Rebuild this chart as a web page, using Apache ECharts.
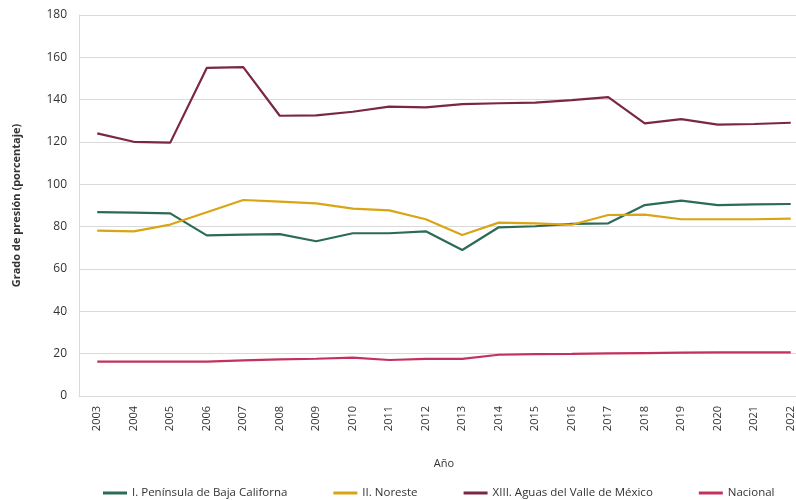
<!DOCTYPE html>
<html><head><meta charset="utf-8">
<script src="https://cdn.jsdelivr.net/npm/echarts@6/dist/echarts.min.js"></script>
<style>html,body{margin:0;padding:0;background:#fff;overflow:hidden}#c{width:796px;height:500px}</style>
</head><body><div id="c"></div>
<script>
var years = ['2003','2004','2005','2006','2007','2008','2009','2010','2011','2012','2013','2014','2015','2016','2017','2018','2019','2020','2021','2022'];
var bajaCalifornia = [86.9,86.6,86.3,75.9,76.2,76.5,73.1,76.9,76.9,77.8,69.0,79.7,80.2,81.3,81.6,90.2,92.3,90.2,90.5,90.7];
var noreste = [78.1,77.8,81.0,86.8,92.6,91.8,91.0,88.5,87.7,83.5,76.1,81.9,81.6,80.9,85.5,85.7,83.5,83.5,83.5,83.8];
var valleMexico = [124.1,120.1,119.7,155.0,155.4,132.4,132.6,134.3,136.7,136.4,137.9,138.3,138.6,139.8,141.2,128.8,130.8,128.2,128.5,129.1];
var nacional = [16.2,16.2,16.2,16.2,16.8,17.3,17.6,18.1,17.0,17.5,17.5,19.5,19.8,19.9,20.1,20.3,20.5,20.6,20.6,20.6];
var seriesNames = ['I. Península de Baja Californa','II. Noreste','XIII. Aguas del Valle de México','Nacional'];
var colors = ['#2b6b57','#d9a514','#7a2745','#c3325d'];
var yTicks = {min:0, max:180, interval:20};

var font = 'Open Sans';
var chart = echarts.init(document.getElementById('c'), null, {renderer:'canvas'});
var datasets = [bajaCalifornia, noreste, valleMexico, nacional];
chart.setOption({
  animation:false,
  color: colors,
  textStyle:{fontFamily:font},
  grid:{left:79, width:730, top:15, height:381, containLabel:false, outerBoundsMode:'none'},
  legend:{
    bottom:-4, left:98, width:698, itemWidth:24, itemHeight:3, itemGap:46,
    icon:'rect',
    textStyle:{fontFamily:font, fontSize:11.5, color:'#333'},
    data: seriesNames
  },
  xAxis:{
    type:'category', data:years, boundaryGap:true,
    name:'Año', nameLocation:'middle', nameGap:62,
    nameTextStyle:{fontFamily:font, fontSize:11, color:'#333'},
    axisLine:{lineStyle:{color:'#d9d9d9'}},
    axisTick:{show:false},
    axisLabel:{rotate:90, fontSize:11, color:'#333', fontFamily:font, margin:10}
  },
  yAxis:{
    type:'value', min:yTicks.min, max:yTicks.max, interval:yTicks.interval,
    name:'Grado de presión (porcentaje)', nameLocation:'middle', nameGap:57,
    nameTextStyle:{fontFamily:font, fontSize:11, fontWeight:'bold', color:'#333'},
    axisLine:{show:true, lineStyle:{color:'#d9d9d9'}},
    axisTick:{show:false},
    axisLabel:{fontSize:12, color:'#333', fontFamily:font, margin:12},
    splitLine:{lineStyle:{color:'#d9d9d9', width:1}}
  },
  series: seriesNames.map(function(n,i){
    return {name:n, type:'line', data:datasets[i], symbol:'none',
      lineStyle:{width:2.2, color:colors[i]}, itemStyle:{color:colors[i]}};
  })
});
</script></body></html>
